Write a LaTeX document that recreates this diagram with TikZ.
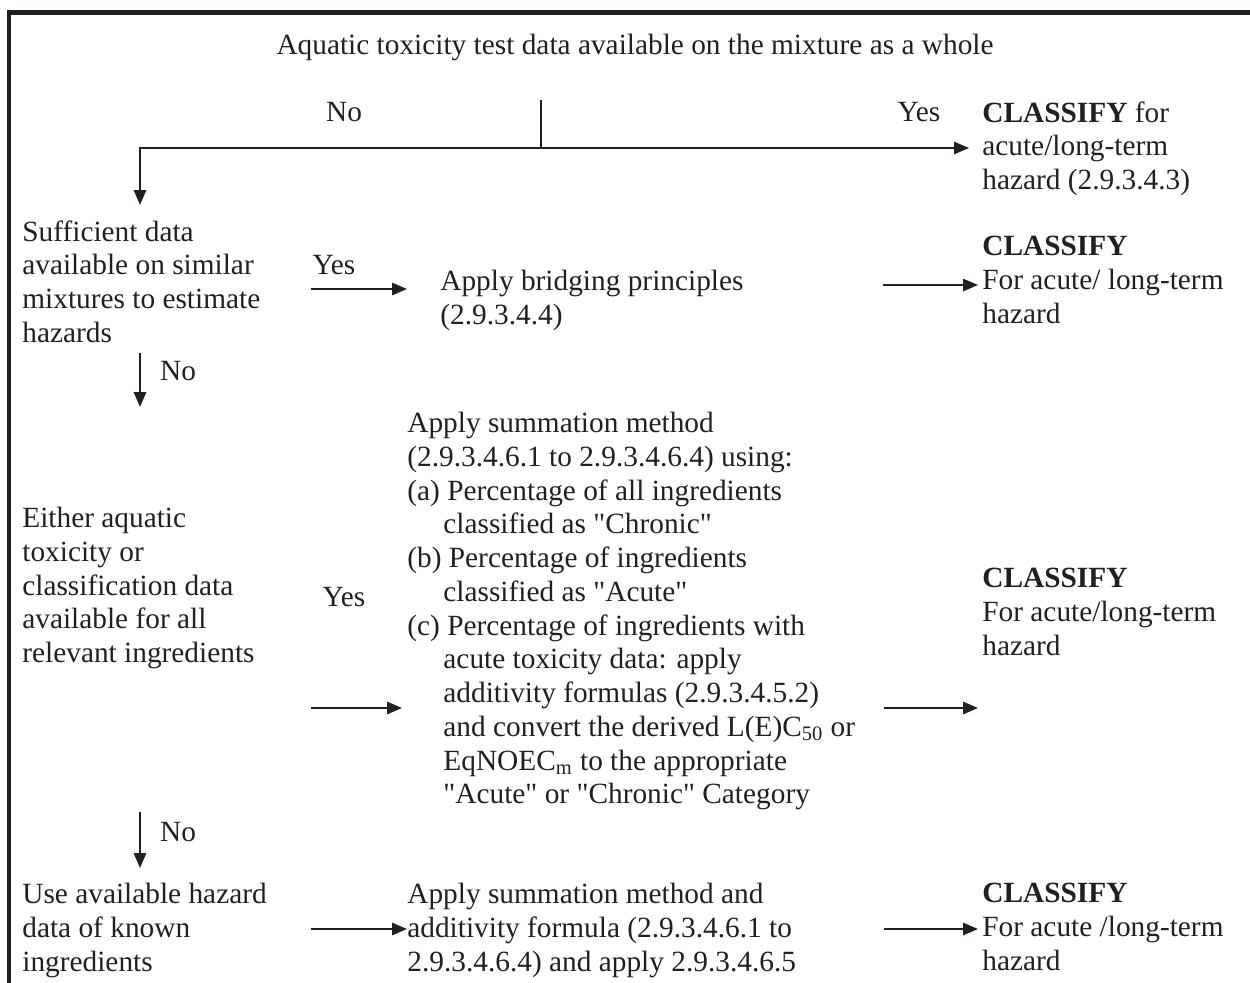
\documentclass[tikz,border=0pt]{standalone}
\usepackage{fontspec}
\defaultfontfeatures[\rmfamily]{}
\setmainfont{Liberation Serif}
\usepackage{xcolor}
\usepackage{tikz}
\usetikzlibrary{arrows.meta}
\definecolor{ink}{HTML}{231F20}
\newcommand{\subind}{\hspace*{1.23em}}
\tikzset{
  frame/.style={draw=ink, line width=2.3pt},
  line/.style={draw=ink, line width=1.1pt},
  arr/.style={line, -{Triangle[length=8.5pt, width=7pt]}},
  txt/.style={text=ink, inner sep=0pt, anchor=north west, align=left, font=\fontsize{16.7}{19.2}\selectfont},
  lbl/.style={text=ink, inner sep=0pt, anchor=base, font=\fontsize{16.7}{19.2}\selectfont}
}

\begin{document}
\begin{tikzpicture}[x=0.02cm, y=-0.02cm]
  \useasboundingbox (0,0) rectangle (1250,983);
  \draw[frame] (9,983) -- (9,12.5) -- (1250,12.5);

  \node[lbl] (whole) at (635,55) {Aquatic toxicity test data available on the mixture as a whole};
  \node[lbl] (no0) at (344,122) {No};
  \node[lbl] (yes0) at (919,122) {Yes};
  \node[txt] (cls0) at (982,101) {\textbf{CLASSIFY} for\\acute/long-term\\hazard (2.9.3.4.3)};

  \node[txt] (similar) at (22,220) {Sufficient data\\available on similar\\mixtures to estimate\\hazards};
  \node[lbl] (yes1) at (334,274) {Yes};
  \node[txt] (bridge) at (440,270) {Apply bridging principles\\(2.9.3.4.4)};
  \node[txt] (cls1) at (982,236) {\textbf{CLASSIFY}\\For acute/ long-term\\hazard};
  \node[lbl] (no1) at (178,380) {No};

  \node[txt] (avail) at (22,507) {Either aquatic\\toxicity or\\classification data\\available for all\\relevant ingredients};
  \node[lbl] (yes2) at (344,606) {Yes};
  \node[txt] (summ) at (407,412) {Apply summation method\\(2.9.3.4.6.1 to 2.9.3.4.6.4) using:\\(a) Percentage of all ingredients\\\subind classified as "Chronic"\\(b) Percentage of ingredients\\\subind classified as "Acute"\\(c) Percentage of ingredients with\\\subind acute toxicity data: apply\\\subind additivity formulas (2.9.3.4.5.2)\\\subind and convert the derived L(E)C\textsubscript{50} or\\\subind EqNOEC\textsubscript{m} to the appropriate\\\subind "Acute" or "Chronic" Category};
  \node[txt] (cls2) at (982,568) {\textbf{CLASSIFY}\\For acute/long-term\\hazard};
  \node[lbl] (no2) at (178,841) {No};

  \node[txt] (known) at (22,883) {Use available hazard\\data of known\\ingredients};
  \node[txt] (addit) at (407,883) {Apply summation method and\\additivity formula (2.9.3.4.6.1 to\\2.9.3.4.6.4) and apply 2.9.3.4.6.5};
  \node[txt] (cls3) at (982,883) {\textbf{CLASSIFY}\\For acute /long-term\\hazard};

  \coordinate (q0) at (541,100);
  \coordinate (j0) at (541,148);
  \coordinate (l0) at (140,148);
  \coordinate (d0) at (140,205);
  \coordinate (r0) at (969,148);
  \draw[line] (q0) -- (j0);
  \draw[arr] (j0) -- (l0) -- (d0);
  \draw[arr] (j0) -- (r0);

  \coordinate (a1) at (311,289);
  \coordinate (b1) at (407,289);
  \coordinate (c1) at (883,285);
  \coordinate (e1) at (978,285);
  \coordinate (u1) at (140,353);
  \coordinate (v1) at (140,407);
  \draw[arr] (a1) -- (b1);
  \draw[arr] (c1) -- (e1);
  \draw[arr] (u1) -- (v1);

  \coordinate (a2) at (311,708);
  \coordinate (b2) at (402,708);
  \coordinate (c2) at (884,708);
  \coordinate (e2) at (978,708);
  \coordinate (u2) at (140,812);
  \coordinate (v2) at (140,868);
  \draw[arr] (a2) -- (b2);
  \draw[arr] (c2) -- (e2);
  \draw[arr] (u2) -- (v2);

  \coordinate (a3) at (311,929);
  \coordinate (b3) at (407,929);
  \coordinate (c3) at (884,929);
  \coordinate (e3) at (978,929);
  \draw[arr] (a3) -- (b3);
  \draw[arr] (c3) -- (e3);
\end{tikzpicture}
\end{document}
